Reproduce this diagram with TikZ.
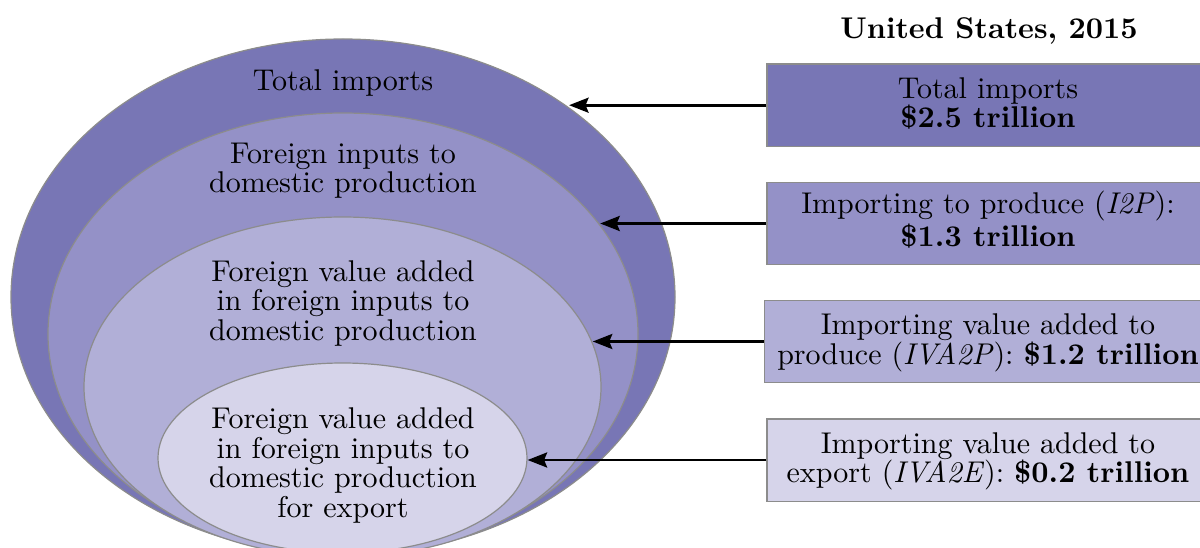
\documentclass[tikz,border=0pt]{standalone}
\usetikzlibrary{shapes.geometric,arrows.meta}

% fills for the nested import measures, darkest (widest) first
\definecolor{ringA}{RGB}{120,118,181}
\definecolor{ringB}{RGB}{148,145,199}
\definecolor{ringC}{RGB}{177,175,215}
\definecolor{ringD}{RGB}{214,212,234}
\definecolor{edgegray}{RGB}{140,140,140}

\begin{document}
\begin{tikzpicture}[x=0.33333pt,y=-0.33333pt,
  ring/.style={ellipse,draw=edgegray,line width=0.4pt,inner sep=0pt},
  % multi-line captions are anchored on the baseline of their last line
  ringtext/.style={align=center,anchor=base,inner sep=0pt,
    font=\fontsize{10}{9.8}\selectfont},
  valuebox/.style={rectangle,draw=edgegray,line width=0.4pt,
    minimum width=147.3pt,inner xsep=4.3pt,inner ysep=0pt,
    text height=21.3pt,text depth=6.1pt,align=center,
    font=\fontsize{10}{9.8}\selectfont},
  link/.style={-{Stealth[length=6.5pt,width=5pt,inset=1pt]},line width=0.9pt}]

\useasboundingbox (0,0) rectangle (1200,548);
\clip (0,0) rectangle (1200,548);

% nested ellipses
\node[ring,fill=ringA,minimum width=221.33pt,minimum height=172pt] (e1) at (343,297) {};
\node[ring,fill=ringB,minimum width=196.67pt,minimum height=147.33pt] (e2) at (343,334) {};
\node[ring,fill=ringC,minimum width=172.33pt,minimum height=113.33pt] (e3) at (342.5,387) {};
\node[ring,fill=ringD,minimum width=123pt,minimum height=63.33pt] (e4) at (342.5,458) {};

% ellipse captions
\node[ringtext] (t1) at (343,90.7) {Total imports};
\node[ringtext] (t2) at (343,193) {Foreign inputs to\\domestic production};
\node[ringtext] (t3) at (343,340) {Foreign value added\\in foreign inputs to\\domestic production};
\node[ringtext] (t4) at (343,517) {Foreign value added\\in foreign inputs to\\domestic production\\for export};

% heading
\node[anchor=base,inner sep=0pt,font=\bfseries] (title) at (989,39) {United States, 2015};

% value boxes
\node[valuebox,fill=ringA] (b1) at (988,105.2) {Total imports\\\textbf{\$2.5 trillion}};
\node[valuebox,fill=ringB] (b2) at (988,223.5) {Importing to produce (\textit{I2P}):\\\textbf{\$1.3 trillion}};
\node[valuebox,fill=ringC] (b3) at (988,341.5) {Importing value added to\\produce (\textit{IVA2P}): \textbf{\$1.2 trillion}};
\node[valuebox,fill=ringD] (b4) at (988,460) {Importing value added to\\export (\textit{IVA2E}): \textbf{\$0.2 trillion}};

% arrows from each box to its ellipse
\draw[link] (b1.west) -- (b1.west -| e1.40.8);
\draw[link] (b2.west) -- (b2.west -| e2.23.4);
\draw[link] (b3.west) -- (b3.west -| e3.10.35);
\draw[link] (b4.west) -- (b4.west -| e4.east);
\end{tikzpicture}
\end{document}
